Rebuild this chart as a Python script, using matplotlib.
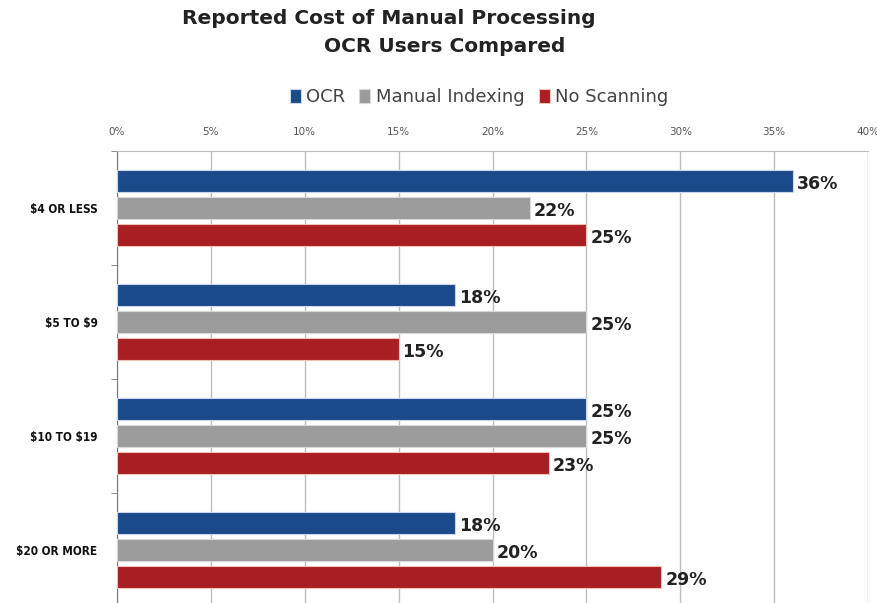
import matplotlib

matplotlib.use("Agg")
import matplotlib.pyplot as plt
import numpy as np

plt.rcParams["text.parse_math"] = False

categories = ["$4 OR LESS", "$5 TO $9", "$10 TO $19", "$20 OR MORE"]
series_names = ["OCR", "Manual Indexing", "No Scanning"]
ocr = [36, 18, 25, 18]
manual_indexing = [22, 25, 25, 20]
no_scanning = [25, 15, 23, 29]
x_ticks = [0, 5, 10, 15, 20, 25, 30, 35, 40]

colors = ["#1b4a8a", "#9b9b9b", "#a81e22"]
edges = ["#c9d6ee", "#d8d8d8", "#f3c2b4"]

fig = plt.figure(figsize=(8.78, 6.03), dpi=100)
ax = fig.add_axes([117 / 878, -4 / 603, 751 / 878, 456 / 603])

y = np.arange(len(categories))
height = 0.2
step = 0.237
for i, (name, vals) in enumerate(zip(series_names, [ocr, manual_indexing, no_scanning])):
    pos = y + (i - 1) * step
    ax.barh(pos, vals, height=height, color=colors[i], edgecolor=edges[i],
            linewidth=0.8, label=name, zorder=3)
    for p, v in zip(pos, vals):
        ax.text(v + 0.2, p + 0.03, f"{v}%", va="center", ha="left",
                fontsize=12.5, fontweight="bold", color="#222222", zorder=4)

ax.set_xlim(0, 40)
ax.set_ylim(len(categories) - 0.5, -0.5)
ax.set_xticks(x_ticks, labels=[f"{t}%" for t in x_ticks])
ax.xaxis.tick_top()
ax.tick_params(axis="x", length=0, pad=10, labelsize=7.5, labelcolor="#555555")
ax.set_yticks(y, labels=categories)
ax.set_yticks(np.arange(len(categories) + 1) - 0.5, minor=True)
ax.tick_params(axis="y", which="major", length=0, pad=14)
ax.tick_params(axis="y", which="minor", length=4, color="#777777", direction="out")
for lab in ax.get_yticklabels():
    lab.set_family(["DejaVu Sans"])
    lab.set_stretch("condensed")
    lab.set_fontweight("bold")
    lab.set_fontsize(8.5)
    lab.set_color("#111111")

ax.grid(axis="x", color="#bdbdbd", linewidth=1, zorder=0)
for side in ["right", "bottom"]:
    ax.spines[side].set_visible(False)
ax.spines["left"].set_color("#777777")
ax.spines["top"].set_color("#bdbdbd")

fig.text(389 / 878, 1 - 19 / 603, "Reported Cost of Manual Processing", ha="center",
         va="center", fontsize=14.5, fontweight="bold", color="#222222")
fig.text(445 / 878, 1 - 47 / 603, "OCR Users Compared", ha="center",
         va="center", fontsize=14.5, fontweight="bold", color="#222222")

fig.legend(loc="center", bbox_to_anchor=(479 / 878, 1 - 97 / 603), ncol=3,
           frameon=False, fontsize=13, handlelength=0.6, handleheight=0.8,
           handletextpad=0.3, columnspacing=0.8, labelcolor="#444444")

fig.savefig("out.png", dpi=100)
